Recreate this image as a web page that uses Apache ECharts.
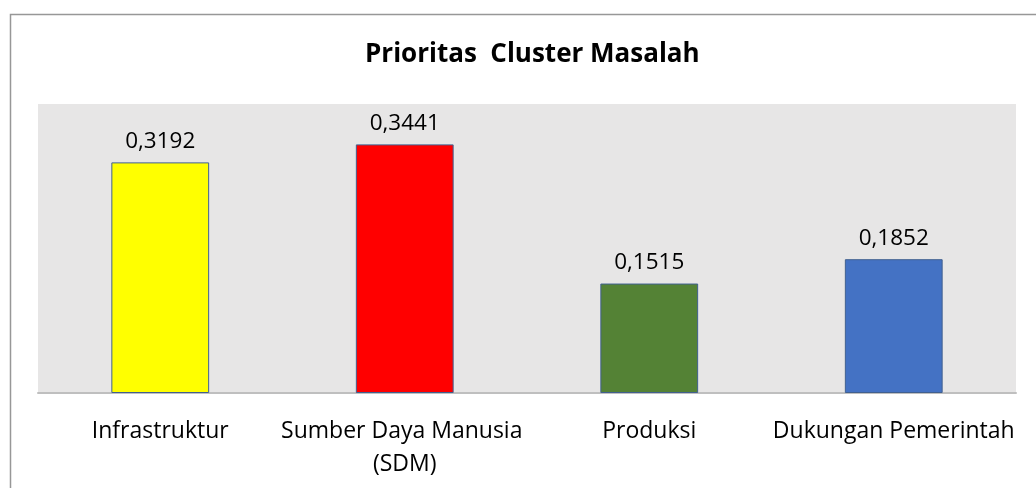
<!DOCTYPE html>
<html>
<head>
<meta charset="utf-8">
<script src="https://cdn.jsdelivr.net/npm/echarts@6/dist/echarts.min.js"></script>
<style>
html,body{margin:0;padding:0;background:#fff;}
#c{width:1036px;height:488px;}
</style>
</head>
<body>
<div id="c"></div>
<script>
var titleText = 'Prioritas  Cluster Masalah';
var categories = ['Infrastruktur', 'Sumber Daya Manusia (SDM)', 'Produksi', 'Dukungan Pemerintah'];
var values = [0.3192, 0.3441, 0.1515, 0.1852];
var barColors = ['#FFFF00', '#FF0000', '#548235', '#4472C4'];
var yMin = 0, yMax = 0.4;

var chart = echarts.init(document.getElementById('c'), null, {renderer: 'canvas'});
var FONT = 'Open Sans';
chart.setOption({
  animation: false,
  backgroundColor: '#fff',
  graphic: [{
    type: 'rect', left: 8, top: 12, z: -10,
    shape: {width: 1100, height: 600},
    style: {fill: 'none', stroke: '#979797', lineWidth: 1.5}
  }],
  title: {
    text: titleText, left: 360, top: 37,
    textStyle: {fontFamily: FONT, fontWeight: 'bold', fontSize: 26, color: '#000'}
  },
  grid: {left: 38, right: 20, top: 104, bottom: 95, containLabel: false,
    show: true, backgroundColor: '#E7E6E6', borderWidth: 0},
  xAxis: {
    type: 'category', data: categories,
    axisLine: {lineStyle: {color: '#BFBFBF', width: 2}},
    axisTick: {show: false},
    axisLabel: {fontFamily: FONT, fontSize: 23, color: '#000', margin: 22,
      width: 250, overflow: 'break', lineHeight: 33, interval: 0}
  },
  yAxis: {
    type: 'value', min: yMin, max: yMax, show: false,
    splitLine: {show: false}
  },
  series: [{
    type: 'bar', barWidth: '40%',
    data: values.map(function(v, i){ return {value: v, itemStyle: {color: barColors[i]}}; }),
    itemStyle: {borderColor: '#41608f', borderWidth: 1},
    label: {show: true, position: 'top', distance: 9, fontFamily: FONT, fontSize: 22.5, color: '#000',
      formatter: function(p){ return p.value.toFixed(4).replace('.', ','); }}
  }]
});
</script>
</body>
</html>
